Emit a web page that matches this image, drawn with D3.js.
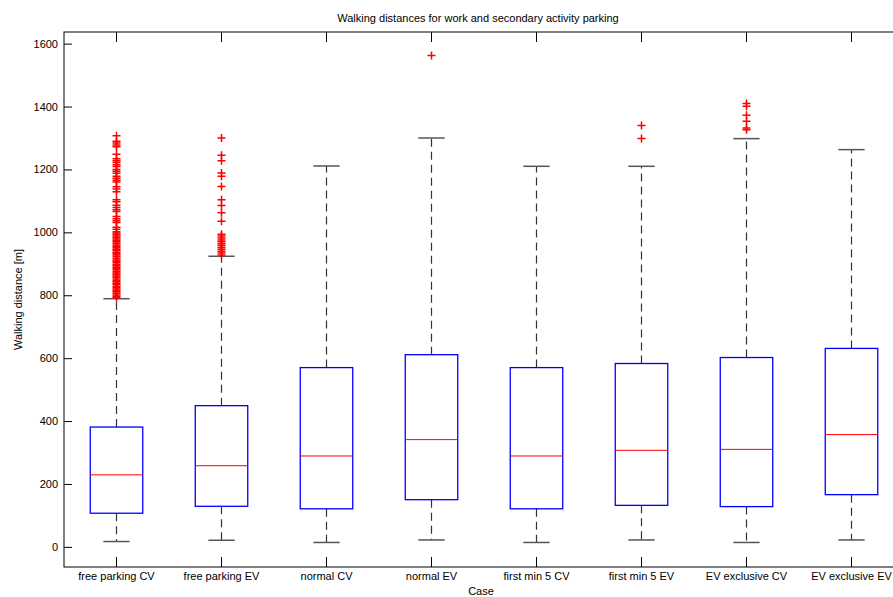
<!DOCTYPE html>
<html>
<head>
<meta charset="utf-8">
<script src="https://cdn.jsdelivr.net/npm/d3@7"></script>
<style>
	body { margin: 0; background: #fff; }
	text { font-family: "Liberation Sans", Arial, sans-serif; }
</style>
</head>
<body>
<svg id="chart" width="893" height="597"></svg>
<script>
const categories = [
	"free parking CV", "free parking EV", "normal CV", "normal EV",
	"first min 5 CV", "first min 5 EV", "EV exclusive CV", "EV exclusive EV",
];
const whiskerLow = [17, 21, 14, 22, 14, 22, 14, 22];
const q1 = [107, 129, 121, 150, 121, 132, 128, 166];
const medians = [229, 258, 289, 341, 289, 307, 310, 357];
const q3 = [381, 449, 570, 611, 570, 583, 602, 631];
const whiskerHigh = [789, 924, 1211, 1300, 1210, 1210, 1298, 1263];
const outliers = [
	[792, 797, 801, 806, 811, 815, 820, 824, 829, 834, 838, 843, 847, 852, 857,
	 861, 866, 871, 875, 880, 884, 889, 894, 898, 903, 908, 912, 918, 923, 928,
	 932, 937, 942, 946, 951, 956, 960, 965, 970, 974, 979, 984, 988, 993, 998,
	 1002, 1010, 1016, 1031, 1037, 1043, 1050, 1066, 1072, 1079, 1086, 1097,
	 1104, 1129, 1138, 1145, 1160, 1166, 1172, 1178, 1188, 1194, 1200, 1209,
	 1215, 1222, 1228, 1234, 1248, 1272, 1278, 1284, 1290, 1307],
	[928, 934, 940, 946, 952, 958, 964, 970, 976, 982, 988, 994, 1035, 1062,
	 1085, 1104, 1146, 1178, 1189, 1228, 1245, 1300],
	[],
	[1562],
	[],
	[1298, 1340],
	[1326, 1332, 1353, 1372, 1401, 1410],
	[],
];
const yTicks = [0, 200, 400, 600, 800, 1000, 1200, 1400, 1600];

const stats = categories.map((label, i) => ({
	label,
	lo: whiskerLow[i],
	q1: q1[i],
	med: medians[i],
	q3: q3[i],
	hi: whiskerHigh[i],
	out: outliers[i],
}));

const svg = d3.select("#chart");
const mLeft = 64, mRight = 904, mTop = 32, mBottom = 567;

const x = d3.scaleBand().domain(categories).range([mLeft, mRight]).padding(0);
const y = d3.scaleLinear().domain([-64, 1637]).range([mBottom, mTop]);
const cx = (d) => x(d.label) + x.bandwidth() / 2;
const boxW = x.bandwidth() * 0.5;
const capW = x.bandwidth() * 0.25;

// frame
svg.append("rect")
	.attr("x", mLeft).attr("y", mTop)
	.attr("width", mRight - mLeft).attr("height", mBottom - mTop)
	.attr("fill", "none").attr("stroke", "#000");

const styleAxis = (g) => {
	g.select(".domain").remove();
	g.selectAll(".tick line").attr("stroke", "#000");
	g.selectAll(".tick text").attr("fill", "#000").attr("font-size", 11);
};

svg.append("g")
	.attr("transform", `translate(${mLeft},0)`)
	.call(d3.axisLeft(y).tickValues(yTicks).tickFormat(d3.format("d"))
		.tickSizeInner(-8).tickSizeOuter(0).tickPadding(6))
	.call(styleAxis);
svg.append("g")
	.attr("transform", `translate(${mRight},0)`)
	.call(d3.axisRight(y).tickValues(yTicks).tickSizeInner(-8).tickSizeOuter(0).tickFormat(""))
	.call(styleAxis);
svg.append("g")
	.attr("transform", `translate(0,${mBottom})`)
	.call(d3.axisBottom(x).tickSizeInner(-10).tickSizeOuter(0).tickPadding(5))
	.call(styleAxis);
svg.append("g")
	.attr("transform", `translate(0,${mTop})`)
	.call(d3.axisTop(x).tickSizeInner(-10).tickSizeOuter(0).tickFormat(""))
	.call(styleAxis);

const box = svg.append("g").selectAll("g").data(stats).join("g");

// whiskers
box.append("line")
	.attr("x1", cx).attr("x2", cx)
	.attr("y1", (d) => y(d.q3)).attr("y2", (d) => y(d.hi))
	.attr("stroke", "#333").attr("stroke-width", 1.2).attr("stroke-dasharray", "8,5");
box.append("line")
	.attr("x1", cx).attr("x2", cx)
	.attr("y1", (d) => y(d.q1)).attr("y2", (d) => y(d.lo))
	.attr("stroke", "#333").attr("stroke-width", 1.2).attr("stroke-dasharray", "8,5");
box.append("line")
	.attr("x1", (d) => cx(d) - capW / 2).attr("x2", (d) => cx(d) + capW / 2)
	.attr("y1", (d) => y(d.hi)).attr("y2", (d) => y(d.hi))
	.attr("stroke", "#555").attr("stroke-width", 1.5);
box.append("line")
	.attr("x1", (d) => cx(d) - capW / 2).attr("x2", (d) => cx(d) + capW / 2)
	.attr("y1", (d) => y(d.lo)).attr("y2", (d) => y(d.lo))
	.attr("stroke", "#555").attr("stroke-width", 1.5);

// boxes
box.append("rect")
	.attr("x", (d) => cx(d) - boxW / 2)
	.attr("y", (d) => y(d.q3))
	.attr("width", boxW)
	.attr("height", (d) => y(d.q1) - y(d.q3))
	.attr("fill", "none").attr("stroke", "#0000ff").attr("stroke-width", 1.3);
box.append("line")
	.attr("x1", (d) => cx(d) - boxW / 2).attr("x2", (d) => cx(d) + boxW / 2)
	.attr("y1", (d) => y(d.med)).attr("y2", (d) => y(d.med))
	.attr("stroke", "#ff0000");

// outliers
box.selectAll("path")
	.data((d) => d.out.map((v) => ({ label: d.label, v })))
	.join("path")
	.attr("transform", (d) => `translate(${cx(d)},${y(d.v)})`)
	.attr("d", "M-4,0H4M0,-4V4")
	.attr("stroke", "#ff0000").attr("stroke-width", 1.5);

svg.append("text")
	.attr("x", 478).attr("y", 22)
	.attr("text-anchor", "middle").attr("font-size", 11)
	.text("Walking distances for work and secondary activity parking");
svg.append("text")
	.attr("x", 481).attr("y", 595)
	.attr("text-anchor", "middle").attr("font-size", 11)
	.text("Case");
svg.append("text")
	.attr("transform", `translate(22,${(mTop + mBottom) / 2}) rotate(-90)`)
	.attr("text-anchor", "middle").attr("font-size", 11)
	.text("Walking distance [m]");
</script>
</body>
</html>
